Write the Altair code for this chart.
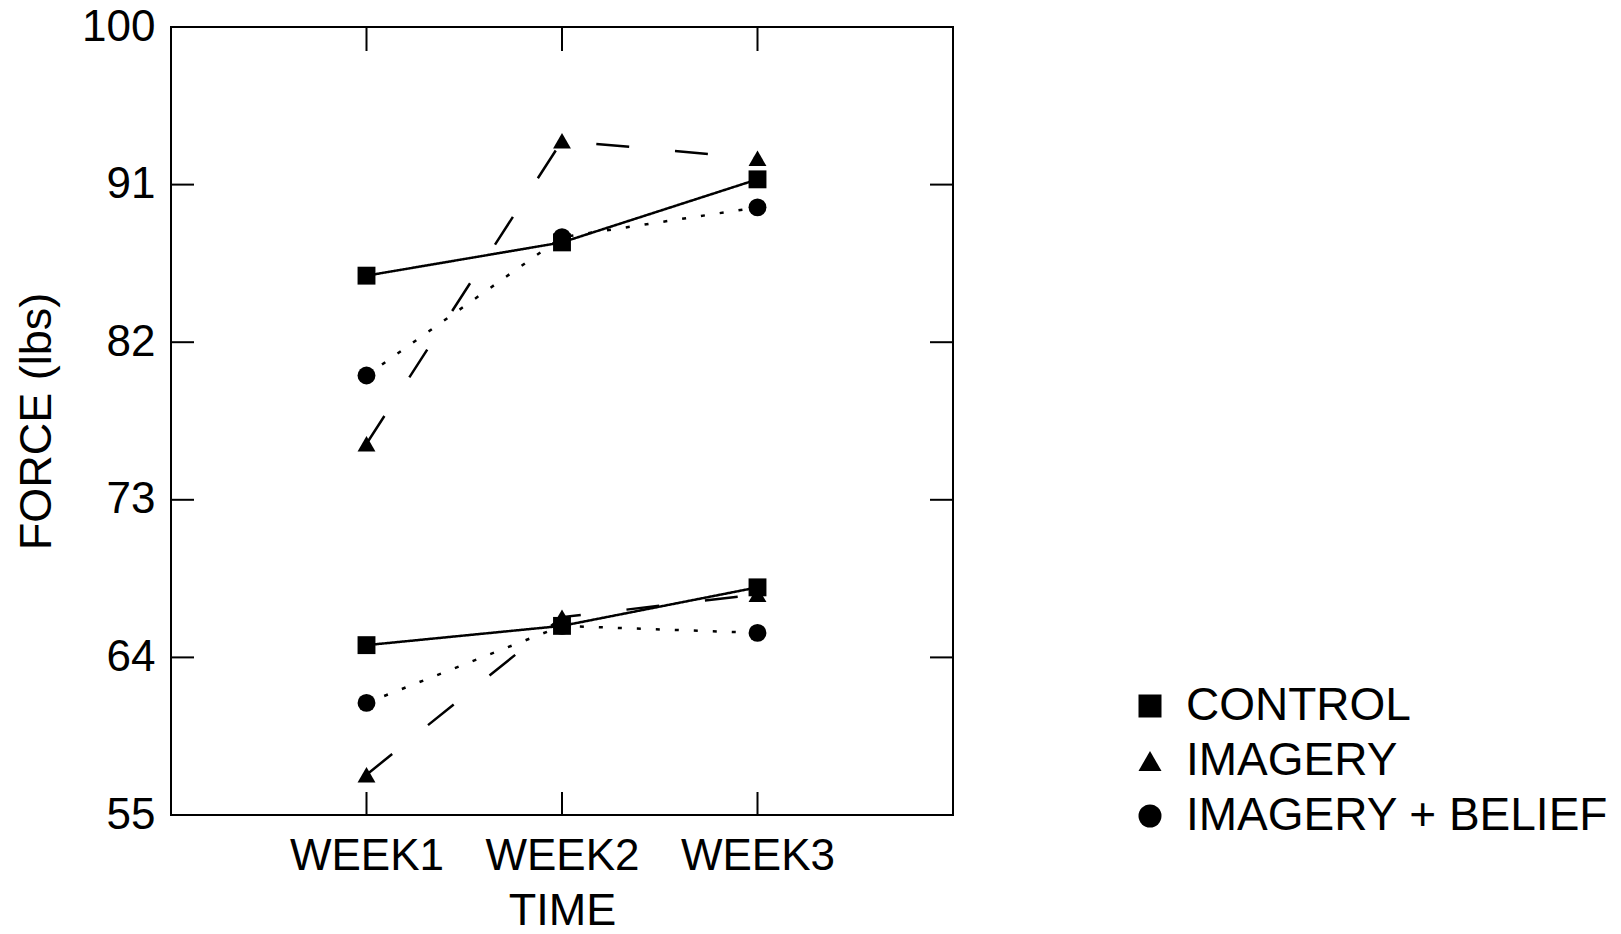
import altair as alt
import pandas as pd

weeks = ["WEEK1", "WEEK2", "WEEK3"]
conditions = ["CONTROL", "IMAGERY", "IMAGERY + BELIEF"]

# upper group of curves
control_upper = [85.8, 87.7, 91.3]
imagery_upper = [76.2, 93.5, 92.5]
belief_upper = [80.1, 88.0, 89.7]
# lower group of curves
control_lower = [64.7, 65.8, 68.0]
imagery_lower = [57.3, 66.3, 67.6]
belief_lower = [61.4, 65.8, 65.4]

y_ticks = [55, 64, 73, 82, 91, 100]

series = [
    ("CONTROL", "upper", control_upper),
    ("IMAGERY", "upper", imagery_upper),
    ("IMAGERY + BELIEF", "upper", belief_upper),
    ("CONTROL", "lower", control_lower),
    ("IMAGERY", "lower", imagery_lower),
    ("IMAGERY + BELIEF", "lower", belief_lower),
]
rows = []
for cond, grp, vals in series:
    for w, v in zip(weeks, vals):
        rows.append({"week": w, "force": v, "group": cond, "series": cond + "-" + grp})
df = pd.DataFrame(rows)

W, H = 782, 788
FONT = "Liberation Sans"

x_axis = alt.Axis(title="TIME", labelAngle=0, labelBaseline="alphabetic", labelPadding=54,
                  titleY=109, titleBaseline="alphabetic")
y_axis = alt.Axis(values=y_ticks, title="FORCE (lbs)", labelPadding=16,
                  titleX=-135, titleY=H / 2, titleAngle=-90, titleAlign="center",
                  titleBaseline="middle")

def X(field="week"):
    return alt.X(f"{field}:N", scale=alt.Scale(type="point", padding=1, domain=weeks), axis=x_axis)

def Y(field="force"):
    return alt.Y(f"{field}:Q", scale=alt.Scale(domain=[55, 100], nice=False, zero=False), axis=y_axis)

ytick_df = pd.DataFrame({"force": y_ticks[1:-1]})
xtick_df = pd.DataFrame({"week": weeks})

left_ticks = alt.Chart(ytick_df).mark_rule(color="black", strokeWidth=2).encode(
    y=Y(), x=alt.value(0), x2=alt.value(23))
right_ticks = alt.Chart(ytick_df).mark_rule(color="black", strokeWidth=2).encode(
    y=Y(), x=alt.value(W - 23), x2=alt.value(W))
bottom_ticks = alt.Chart(xtick_df).mark_rule(color="black", strokeWidth=2).encode(
    x=X(), y=alt.value(H), y2=alt.value(H - 23))
top_ticks = alt.Chart(xtick_df).mark_rule(color="black", strokeWidth=2).encode(
    x=X(), y=alt.value(0), y2=alt.value(24))

dashes = {"CONTROL": [1, 0], "IMAGERY": [33, 46], "IMAGERY + BELIEF": [4, 15]}
line_layers = []
for cond in conditions:
    line_layers.append(
        alt.Chart(df).transform_filter(alt.datum.group == cond)
        .mark_line(color="black", strokeWidth=2.5, strokeDash=dashes[cond])
        .encode(x=X(), y=Y(), detail="series:N")
    )

points = alt.Chart(df).mark_point(filled=True, size=320, opacity=1, color="black").encode(
    x=X(), y=Y(),
    shape=alt.Shape("group:N",
                    scale=alt.Scale(domain=conditions, range=["square", "triangle-up", "circle"]),
                    legend=alt.Legend(title=None, orient="none", legendX=956, legendY=656,
                                      labelFontSize=46, labelFont=FONT, labelColor="black",
                                      symbolSize=529, symbolFillColor="black",
                                      symbolStrokeColor="black", rowPadding=9,
                                      labelOffset=13, labelLimit=700)),
)

chart = alt.layer(left_ticks, right_ticks, bottom_ticks, top_ticks, *line_layers, points).properties(
    width=W, height=H,
    autosize=alt.AutoSizeParams(type="none"),
    padding={"left": 171, "top": 27, "right": 1621 - 171 - W, "bottom": 934 - 27 - H},
    background="white",
).configure_view(
    stroke="black", strokeWidth=2
).configure_axis(
    labelFont=FONT, labelFontSize=44, labelColor="black",
    titleFont=FONT, titleFontSize=45, titleFontWeight="normal", titleColor="black",
    domain=False, ticks=False, tickSize=0, grid=False,
)

chart.save("out.html", embed_options={"renderer": "svg", "actions": False})
